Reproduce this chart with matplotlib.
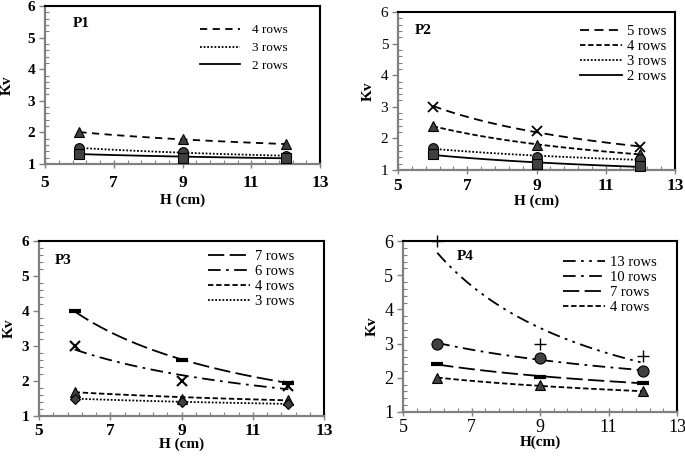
import numpy as np
import matplotlib
matplotlib.use("Agg")
import matplotlib.pyplot as plt
from matplotlib.ticker import FixedLocator

plt.rcParams['font.family'] = ['Liberation Serif', 'DejaVu Serif']

H = [6, 9, 12]
x_ticks = [5, 7, 9, 11, 13]
y_ticks = [1, 2, 3, 4, 5, 6]

# Panel P1
p1_labels = ["4 rows", "3 rows", "2 rows"]
p1_values = [[2.0, 1.8, 1.62], [1.5, 1.38, 1.25], [1.33, 1.2, 1.2]]
# Panel P2
p2_labels = ["5 rows", "4 rows", "3 rows", "2 rows"]
p2_values = [[3.0, 2.25, 1.72], [2.4, 1.8, 1.5], [1.7, 1.4, 1.35], [1.5, 1.2, 1.12]]
# Panel P3
p3_labels = ["7 rows", "6 rows", "4 rows", "3 rows"]
p3_values = [[4.0, 2.6, 1.95], [3.0, 2.0, 1.85], [1.7, 1.5, 1.47], [1.5, 1.4, 1.35]]
# Panel P4
p4_labels = ["13 rows", "10 rows", "7 rows", "4 rows"]
p4_values = [[6.0, 3.0, 2.65], [3.0, 2.57, 2.2], [2.4, 2.03, 1.85], [2.0, 1.78, 1.6]]

W, Hh = 685, 457
fig = plt.figure(figsize=(W / 100, Hh / 100), dpi=100)

def px_axes(l, r, t, b):
    return fig.add_axes([l / W, (Hh - b) / Hh, (r - l) / W, (b - t) / Hh])

LS = {
    'dash': (0, (4, 3)),
    'dash5': (0, (5, 3)),
    'sdash': (0, (3, 1.5)),
    'dot': (0, (1, 1)),
    'solid': '-',
    'long': (0, (9, 3)),
    'dashdot': (0, (7, 3, 1.5, 3)),
    'dashdotdot': (0, (7, 3, 1.5, 3, 1.5, 3)),
}

def power_fit(x, y, xs):
    b, a = np.polyfit(np.log(x), np.log(y), 1)
    return np.exp(a) * xs ** b

def panel(ax, labels, values, styles, markers, title, tpos, lpos, xlabel,
          boldx=True, boldy=True, xfs=12.5, yfs=11, leg_fs=10.5, leg_sp=0.12,
          ylabelpad=4, xpad=5, xlabelpad=2, hl=2.9, htp=0.3):
    xs = np.linspace(6, 12, 60)
    handles = []
    for lab, vals, ls, mk in zip(labels, values, styles, markers):
        ln, = ax.plot(xs, power_fit(H, vals, xs), color='black', lw=1.3,
                      linestyle=LS[ls], label=lab, zorder=2)
        handles.append(ln)
        m, ms, mew = mk
        ax.plot(H, vals, linestyle='none', marker=m, markersize=ms,
                markerfacecolor='#404040', markeredgecolor='black',
                markeredgewidth=mew, color='black', zorder=3, clip_on=False)
    ax.set_xlim(5, 13)
    ax.set_ylim(1, 6)
    ax.xaxis.set_major_locator(FixedLocator(x_ticks))
    ax.xaxis.set_minor_locator(FixedLocator(np.arange(5, 13.01, 0.4)))
    ax.yaxis.set_major_locator(FixedLocator(y_ticks))
    ax.yaxis.set_minor_locator(FixedLocator(np.arange(1, 6.01, 0.2)))
    ax.tick_params(axis='x', which='major', direction='inout', length=6,
                   width=1, color='#808080', labelsize=xfs, pad=xpad)
    ax.tick_params(axis='x', which='minor', direction='in', length=3,
                   width=0.8, color='#808080')
    ax.tick_params(axis='y', which='major', direction='out', length=4,
                   width=1, color='#808080', labelsize=yfs, pad=3)
    ax.tick_params(axis='y', which='minor', direction='in', length=3,
                   width=0.8, color='#808080')
    for lbl in ax.get_xticklabels():
        lbl.set_fontweight('bold' if boldx else 'normal')
    for lbl in ax.get_yticklabels():
        lbl.set_fontweight('bold' if boldy else 'normal')
    for s in ['left', 'bottom']:
        ax.spines[s].set_color('#808080')
        ax.spines[s].set_linewidth(1.6)
    for s in ['top', 'right']:
        ax.spines[s].set_color('black')
        ax.spines[s].set_linewidth(1.5)
    ax.set_xlabel(xlabel, fontsize=11, fontweight='bold', labelpad=xlabelpad)
    ax.set_ylabel('Kv', fontsize=11, fontweight='bold', labelpad=ylabelpad)
    ax.text(tpos[0], tpos[1], title, transform=ax.transAxes, fontsize=11,
            fontweight='bold', va='center', ha='left')
    ax.legend(handles=handles, loc='upper left', bbox_to_anchor=lpos,
              frameon=False, fontsize=leg_fs, handlelength=hl,
              handletextpad=htp, labelspacing=leg_sp, borderpad=0,
              borderaxespad=0)

ax1 = px_axes(45, 320, 6, 164)
panel(ax1, p1_labels, p1_values, ['dash', 'dot', 'solid'],
      [('^', 7, 0.8), ('o', 7, 0.8), ('s', 7, 0.8)],
      'P1', (0.10, 0.89), (0.564, 0.885), 'H (cm)',
      leg_fs=9.5, leg_sp=0.42, ylabelpad=10, hl=3.0, htp=0.9)

ax2 = px_axes(398, 675, 12, 170)
panel(ax2, p2_labels, p2_values, ['dash5', 'sdash', 'dot', 'solid'],
      [('x', 7, 1.3), ('^', 7, 0.8), ('o', 7, 0.8), ('s', 7, 0.8)],
      'P2', (0.06, 0.886), (0.657, 0.92), 'H (cm)', boldx=True, boldy=False,
      xpad=3, xlabelpad=0)

ax3 = px_axes(39, 324, 241, 416)
panel(ax3, p3_labels, p3_values, ['long', 'dashdot', 'sdash', 'dot'],
      [('_', 9, 3), ('x', 7, 1.5), ('^', 7, 0.8), ('D', 5.5, 0.8)],
      'P3', (0.056, 0.89), (0.593, 0.948), 'H (cm)', xpad=2, xlabelpad=-1)

ax4 = px_axes(403, 677, 241, 412)
panel(ax4, p4_labels, p4_values, ['dashdotdot', 'dashdot', 'long', 'sdash'],
      [('+', 8, 1.0), ('o', 8, 0.8), ('_', 9, 3), ('^', 7, 0.8)],
      'P4', (0.197, 0.91), (0.584, 0.915), 'H(cm)', boldx=False, boldy=False,
      xfs=13, yfs=13, xpad=2, xlabelpad=0)

fig.savefig('out.png', dpi=100)
